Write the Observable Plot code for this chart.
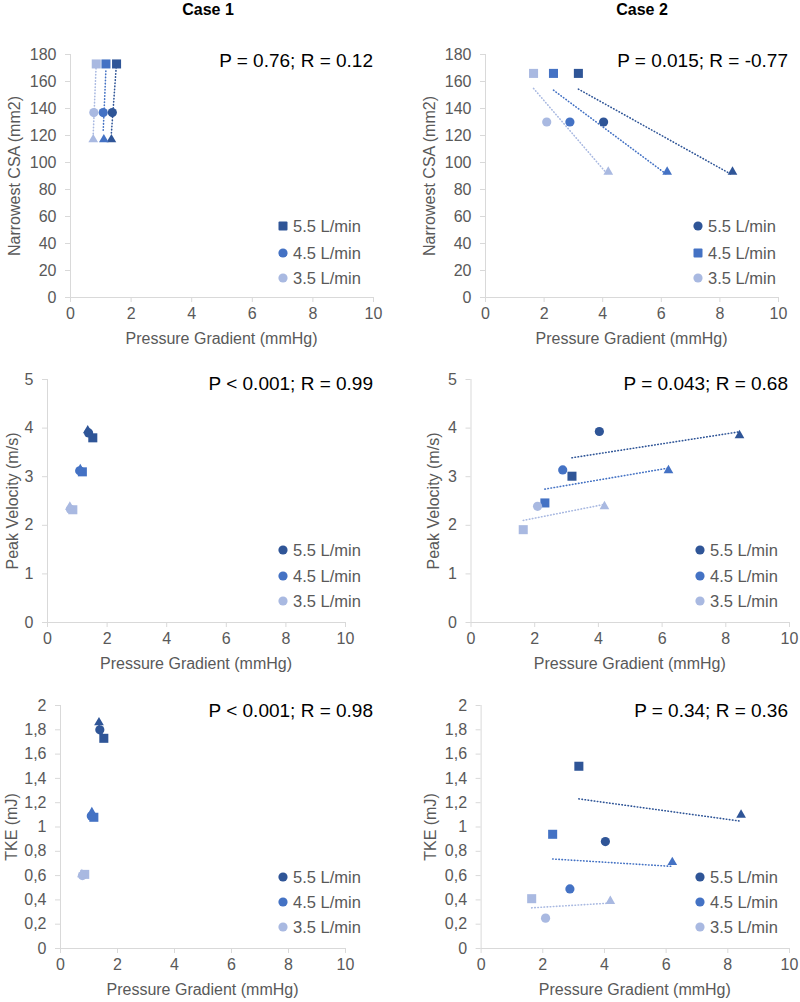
<!DOCTYPE html>
<html><head><meta charset="utf-8">
<script src="https://cdn.jsdelivr.net/npm/d3@7"></script>
<script src="https://cdn.jsdelivr.net/npm/@observablehq/plot@0.6"></script>
<style>
body{margin:0;background:#fff;}
#root{position:relative;width:800px;height:1002px;overflow:hidden;font-family:"Liberation Sans",Arial,Helvetica,sans-serif;background:#fff;}
.abs{position:absolute;white-space:nowrap;line-height:1;}
.plotbox{position:absolute;}
.plotbox svg{overflow:visible;}
</style></head><body><div id="root"></div>
<script>
// ---------- data ----------
const flowLabels = ["5.5 L/min", "4.5 L/min", "3.5 L/min"];
const markerShapes = ["square", "circle", "triangle"];
const flowColors = ["#2F5597", "#4472C4", "#A9B9E1"];

// rows: flows (5.5, 4.5, 3.5); columns: markers (square, circle, triangle)
const case1Gradient = [[1.52, 1.38, 1.35], [1.17, 1.08, 1.10], [0.85, 0.77, 0.75]];
const case1CSA      = [[173, 137, 117], [173, 137, 117], [173, 137, 117]];
const case1Velocity = [[3.80, 3.90, 3.95], [3.10, 3.12, 3.15], [2.32, 2.33, 2.38]];
const case1TKE      = [[1.73, 1.80, 1.86], [1.08, 1.09, 1.12], [0.61, 0.60, 0.61]];

const case2Gradient = [[3.17, 4.03, 8.43], [2.32, 2.88, 6.20], [1.64, 2.09, 4.19]];
const case2CSA      = [[166, 130, 93], [166, 130, 93], [166, 130, 93]];
const case2Velocity = [[3.01, 3.93, 3.85], [2.46, 3.14, 3.13], [1.91, 2.39, 2.39]];
const case2TKE      = [[1.50, 0.88, 1.10], [0.94, 0.49, 0.71], [0.41, 0.25, 0.39]];

const xTicks = [0, 2, 4, 6, 8, 10];
const csaTicks = [0, 20, 40, 60, 80, 100, 120, 140, 160, 180];
const velocityTicks = [0, 1, 2, 3, 4, 5];
const tkeTicks = [0, 0.2, 0.4, 0.6, 0.8, 1, 1.2, 1.4, 1.6, 1.8, 2];

const caseTitles = ["Case 1", "Case 2"];
const statTexts = ["P = 0.76; R = 0.12", "P = 0.015; R = -0.77",
                   "P < 0.001; R = 0.99", "P = 0.043; R = 0.68",
                   "P < 0.001; R = 0.98", "P =  0.34; R = 0.36"];
const xTitle = "Pressure Gradient (mmHg)";
const yTitles = ["Narrowest CSA (mm2)", "Peak Velocity (m/s)", "TKE (mJ)"];
const legendShapes = [["square", "circle", "circle"], ["circle", "square", "circle"],
                      ["circle", "circle", "circle"], ["circle", "circle", "circle"],
                      ["circle", "circle", "circle"], ["circle", "circle", "circle"]];

// ---------- helpers ----------
const root = document.getElementById("root");
function rows(xs, ys) {
  const out = [];
  flowLabels.forEach((f, i) => markerShapes.forEach((s, j) => out.push({flow: f, shape: s, x: xs[i][j], y: ys[i][j]})));
  return out;
}
function label(text, x, y, {anchor = "middle", size = 16, color = "#595959", weight = "normal", rotate = false} = {}) {
  const d = document.createElement("div");
  d.className = "abs";
  d.textContent = text;
  d.style.left = x + "px";
  d.style.top = y + "px";
  d.style.fontSize = size + "px";
  d.style.color = color;
  d.style.fontWeight = weight;
  const tx = anchor === "middle" ? "-50%" : anchor === "end" ? "-100%" : "0";
  d.style.transform = `translate(${tx},-50%)` + (rotate ? " rotate(-90deg)" : "");
  if (rotate) d.style.transform = "translate(-50%,-50%) rotate(-90deg)";
  root.appendChild(d);
}
function legendMarker(shape, color, cx, cy) {
  const ns = "http://www.w3.org/2000/svg";
  const s = document.createElementNS(ns, "svg");
  s.setAttribute("width", 12); s.setAttribute("height", 12);
  s.style.position = "absolute"; s.style.left = (cx - 6) + "px"; s.style.top = (cy - 6) + "px";
  let el;
  if (shape === "square") { el = document.createElementNS(ns, "rect"); el.setAttribute("x", 1.5); el.setAttribute("y", 1.5); el.setAttribute("width", 9); el.setAttribute("height", 9); el.setAttribute("rx", 1); }
  else { el = document.createElementNS(ns, "circle"); el.setAttribute("cx", 6); el.setAttribute("cy", 6); el.setAttribute("r", 4.6); }
  el.setAttribute("fill", color);
  s.appendChild(el);
  root.appendChild(s);
}

function panel(idx, cfg) {
  const data = rows(cfg.xs, cfg.ys);
  const [fx0, fx1, fy0, fy1] = cfg.frame;
  const w = cfg.box[2], h = cfg.box[3], left = cfg.box[0], top = cfg.box[1];
  const dotStyle = {x: "x", y: "y", fill: "flow"};
  const chart = Plot.plot({
    width: w, height: h,
    marginLeft: fx0 - left, marginRight: left + w - fx1,
    marginTop: fy0 - top, marginBottom: top + h - fy1,
    style: {fontFamily: "'Liberation Sans', Arial, sans-serif", fontSize: "16px", background: "transparent"},
    x: {domain: [0, 10]},
    y: {domain: cfg.yDomain},
    color: {domain: flowLabels, range: flowColors},
    marks: [
      Plot.ruleY([0], {stroke: "#D9D9D9", strokeWidth: 1}),
      Plot.ruleX([0], {stroke: "#D9D9D9", strokeWidth: 1}),
      Plot.axisX({ticks: xTicks, tickSize: 5, tickPadding: 5, stroke: "#D9D9D9", fill: "#595959", fontSize: 16, label: null}),
      Plot.axisY({ticks: cfg.yTicks, tickSize: 5, tickPadding: 9, tickFormat: cfg.fmt, stroke: "#D9D9D9", fill: "#595959", fontSize: 16, label: null}),
      Plot.linearRegressionY(data, {x: "x", y: "y", stroke: "flow", ci: 0, strokeWidth: 1.6, strokeDasharray: "0.5,2.6", strokeLinecap: "round"}),
      Plot.dot(data.filter(d => d.shape === "square"), {...dotStyle, symbol: "square", r: 5.1}),
      Plot.dot(data.filter(d => d.shape === "circle"), {...dotStyle, symbol: "circle", r: 4.6}),
      Plot.dot(data.filter(d => d.shape === "triangle"), {...dotStyle, symbol: "triangle", r: 3.6})
    ]
  });
  const box = document.createElement("div");
  box.className = "plotbox";
  box.style.left = left + "px"; box.style.top = top + "px";
  box.appendChild(chart);
  root.appendChild(box);

  // titles
  label(xTitle, (fx0 + fx1) / 2, fy1 + 42);
  label(yTitles[Math.floor(idx / 2)], cfg.yTitleX, (fy0 + fy1) / 2, {rotate: true});
  label(statTexts[idx], cfg.statX, cfg.statY, {anchor: "end", size: 19, color: "#000"});
  // legend
  cfg.legendY.forEach((ly, i) => {
    legendMarker(legendShapes[idx][i], flowColors[i], cfg.legendX, ly);
    label(flowLabels[i], cfg.legendX + 10, ly, {anchor: "start", size: 16.5});
  });
}

const commaFmt = d => String(d).replace(".", ",");

label(caseTitles[0], 208, 10, {size: 16, color: "#000", weight: "bold"});
label(caseTitles[1], 642, 10, {size: 16, color: "#000", weight: "bold"});

panel(0, {box: [0, 0, 400, 330], frame: [70, 373, 54, 297], xs: case1Gradient, ys: case1CSA,
  yDomain: [0, 180], yTicks: csaTicks, fmt: d => d, yTitleX: 15, statX: 373, statY: 60,
  legendX: 283, legendY: [226, 252.5, 278]});
panel(1, {box: [400, 0, 400, 330], frame: [485, 778, 54, 297], xs: case2Gradient, ys: case2CSA,
  yDomain: [0, 180], yTicks: csaTicks, fmt: d => d, yTitleX: 430, statX: 788, statY: 60,
  legendX: 698, legendY: [226, 252.5, 278]});
panel(2, {box: [0, 330, 400, 330], frame: [47, 345, 379, 622], xs: case1Gradient, ys: case1Velocity,
  yDomain: [0, 5], yTicks: velocityTicks, fmt: d => d, yTitleX: 13, statX: 373, statY: 383,
  legendX: 283, legendY: [550, 575.5, 601]});
panel(3, {box: [400, 330, 400, 330], frame: [470.5, 789, 379, 622], xs: case2Gradient, ys: case2Velocity,
  yDomain: [0, 5], yTicks: velocityTicks, fmt: d => d, yTitleX: 434, statX: 788, statY: 383,
  legendX: 700, legendY: [550, 575.5, 601]});
panel(4, {box: [0, 660, 400, 342], frame: [60, 345, 705, 948], xs: case1Gradient, ys: case1TKE,
  yDomain: [0, 2], yTicks: tkeTicks, fmt: commaFmt, yTitleX: 12, statX: 373, statY: 710,
  legendX: 283, legendY: [876.7, 901.7, 926.7]});
panel(5, {box: [400, 660, 400, 342], frame: [480.6, 789, 705, 948], xs: case2Gradient, ys: case2TKE,
  yDomain: [0, 2], yTicks: tkeTicks, fmt: commaFmt, yTitleX: 431, statX: 788, statY: 710,
  legendX: 700, legendY: [876.7, 901.7, 926.7]});
</script></body></html>
